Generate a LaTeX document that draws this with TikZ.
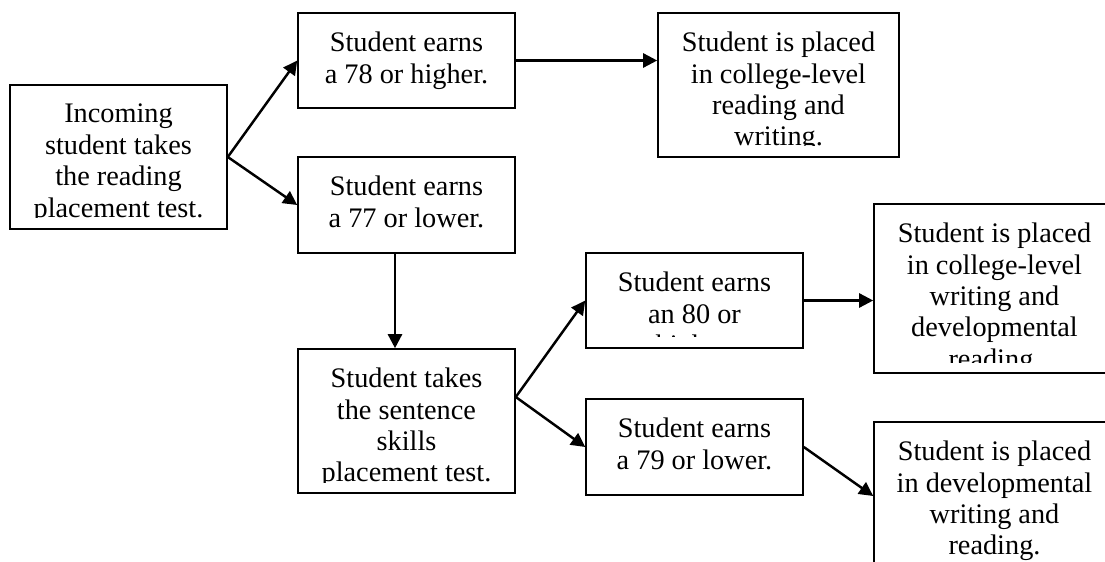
\documentclass[tikz,border=0pt]{standalone}
\usepackage{fontspec}
\setmainfont{Liberation Serif}
\usetikzlibrary{arrows.meta}
\tikzset{every node/.style={font=\fontsize{16.1}{17.9}\selectfont}}
\tikzset{ %boxes and arrows
    box/.style={draw, line width=0.9pt, inner sep=0pt, minimum width=4.34cm},
    wide/.style={minimum width=4.82cm},
    boxtext/.style={path picture={
        \clip ([yshift=0.22cm]path picture bounding box.south west) rectangle (path picture bounding box.north east);
        \node[anchor=north, align=center, inner sep=0pt, minimum width=0pt, minimum height=0pt] at ([yshift=-0.364cm]path picture bounding box.north) {#1};
    }},
    flow/.style={-{Triangle[length=0.28cm,width=0.28cm]}, line width=1.4pt},
}

\begin{document}
\begin{tikzpicture}
		\useasboundingbox (0,0) rectangle (22.1,11.22);
		\clip (0,0) rectangle (22.1,11.22);
		% first test
		\node[box, minimum height=2.88cm, boxtext={Incoming\\student takes\\the reading\\placement test.}] (incoming) at (2.37,8.08) {};
		\node[box, minimum height=1.90cm, boxtext={Student earns\\a 78 or higher.}] (high78) at (8.13,10.01) {};
		\node[box, minimum height=1.92cm, boxtext={Student earns\\a 77 or lower.}] (low77) at (8.13,7.12) {};
		\node[box, wide, minimum height=2.88cm, boxtext={Student is placed\\in college-level\\reading and\\writing.}] (college) at (15.57,9.52) {};
		% second test
		\node[box, minimum height=2.88cm, boxtext={Student takes\\the sentence\\skills\\placement test.}] (sentence) at (8.13,2.80) {};
		\node[box, minimum height=1.90cm, boxtext={Student earns\\an 80 or\\higher.}] (high80) at (13.89,5.21) {};
		\node[box, minimum height=1.92cm, boxtext={Student earns\\a 79 or lower.}] (low79) at (13.89,2.28) {};
		\node[box, wide, minimum height=3.38cm, boxtext={Student is placed\\in college-level\\writing and\\developmental\\reading.}] (mixed) at (19.89,5.45) {};
		\node[box, wide, minimum height=3.38cm, boxtext={Student is placed\\in developmental\\writing and\\reading.}] (devel) at (19.89,1.09) {};
		% arrows
		\draw[flow] (incoming.east) -- (high78.west);
		\draw[flow] (incoming.east) -- (low77.west);
		\draw[flow] (high78.east) -- (high78.east -| college.west);
		\draw[flow] ([xshift=-0.23cm]low77.south) -- ([xshift=-0.23cm]sentence.north);
		\draw[flow] ([yshift=0.48cm]sentence.east) -- (high80.west);
		\draw[flow] ([yshift=0.48cm]sentence.east) -- (low79.west);
		\draw[flow] (high80.east) -- (high80.east -| mixed.west);
		\draw[flow] (low79.east) -- ([yshift=0.21cm]devel.west);
	\end{tikzpicture}
\end{document}
